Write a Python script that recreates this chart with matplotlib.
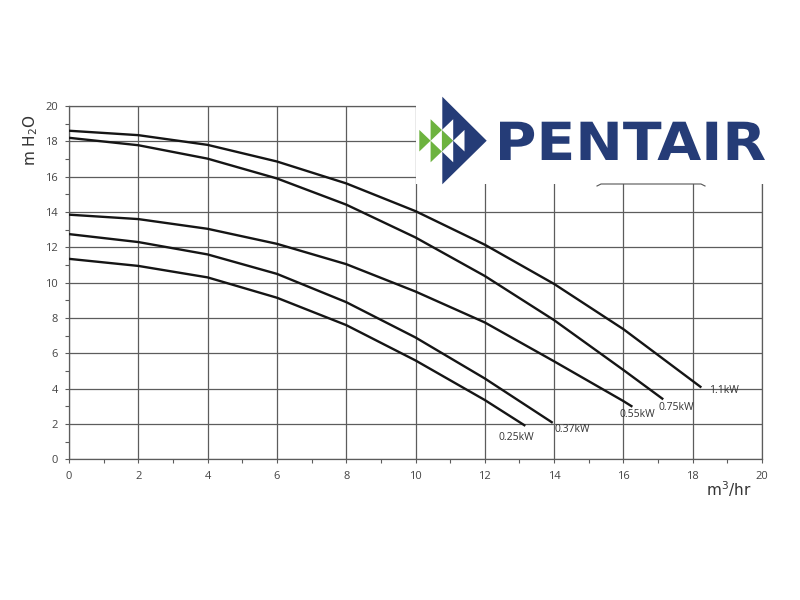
import numpy as np
import matplotlib
matplotlib.use("Agg")
import matplotlib.pyplot as plt
from matplotlib.patches import Polygon, Rectangle, PathPatch
from matplotlib.textpath import TextPath
from matplotlib.font_manager import FontProperties
from matplotlib.transforms import Affine2D

# pump curves (flow m3/hr, head m H2O)
flow_110 = [0, 2, 4, 6, 8, 10, 12, 14, 16, 18.25]
head_110 = [18.6, 18.35, 17.8, 16.86, 15.62, 14.05, 12.15, 9.93, 7.37, 4.07]
flow_075 = [0, 2, 4, 6, 8, 10, 12, 14, 16, 17.15]
head_075 = [18.2, 17.78, 17.02, 15.9, 14.42, 12.56, 10.38, 7.88, 5.06, 3.4]
flow_055 = [0, 2, 4, 6, 8, 10, 12, 14, 16, 16.26]
head_055 = [13.85, 13.6, 13.05, 12.2, 11.05, 9.5, 7.75, 5.55, 3.3, 2.98]
flow_037 = [0, 2, 4, 6, 8, 10, 12, 13.96]
head_037 = [12.75, 12.3, 11.6, 10.5, 8.9, 6.9, 4.58, 2.07]
flow_025 = [0, 2, 4, 6, 8, 10, 12, 13.17]
head_025 = [11.35, 10.95, 10.3, 9.15, 7.6, 5.6, 3.36, 1.9]

labels = ["1.1kW", "0.75kW", "0.55kW", "0.37kW", "0.25kW"]
label_x = [18.46, 17.0, 15.88, 14.0, 12.4]
label_y = [3.92, 2.95, 2.56, 1.67, 1.22]

x_ticks = list(range(0, 21, 2))
y_ticks = list(range(0, 21, 2))

grid_col = "#5c5c5c"
text_col = "#444444"

fig = plt.figure(figsize=(8, 6), dpi=100)
ax = fig.add_axes([69 / 800, 1 - 459.4 / 600, 693 / 800, 353.4 / 600])

curves = [(flow_110, head_110), (flow_075, head_075), (flow_055, head_055),
          (flow_037, head_037), (flow_025, head_025)]
for fx, hy in curves:
    ax.plot(fx, hy, color="#151515", lw=1.7, solid_capstyle="butt", zorder=3)

for lab, lx, ly in zip(labels, label_x, label_y):
    ax.text(lx, ly, lab, fontsize=7.5, color="#333333", family="Open Sans",
            ha="left", va="center", zorder=4)

ax.set_xlim(0, 20)
ax.set_ylim(0, 20)
ax.set_xticks(x_ticks)
ax.set_yticks(y_ticks)
ax.set_xticks(range(1, 20, 2), minor=True)
ax.set_yticks(range(1, 20, 2), minor=True)
ax.grid(True, which="major", color=grid_col, lw=0.9)
ax.set_axisbelow(True)
for s in ax.spines.values():
    s.set_color(grid_col)
    s.set_linewidth(0.9)
ax.tick_params(which="both", direction="out", length=3, width=0.8, color=grid_col,
               labelsize=8, labelcolor=text_col, pad=5)
for t in ax.get_xticklabels() + ax.get_yticklabels():
    t.set_family("Open Sans")

ax.text(-0.056, 0.904, "m H$_2$O", transform=ax.transAxes, rotation=90,
        fontsize=11, color="#333333", ha="center", va="center")
ax.text(0.919, -0.084, "m$^3$/hr", transform=ax.transAxes, fontsize=11,
        color="#333333", ha="left", va="center")

# logo overlay in pixel space
ov = fig.add_axes([0, 0, 1, 1], zorder=10)
ov.set_xlim(0, 800)
ov.set_ylim(600, 0)
ov.axis("off")
ov.patch.set_alpha(0)

ov.add_patch(Rectangle((416, 90), 356, 94, facecolor="white", edgecolor="none"))
ov.plot([597, 601, 701, 705], [186, 184, 184, 186], color="#555555", lw=0.8)

blue = "#253c77"
green = "#6db33f"
ov.add_patch(Polygon([(442.3, 96.7), (486.7, 140.7), (442.3, 184.3)],
                     closed=True, facecolor=blue, edgecolor="none"))


def tri(x0, yc, col, right=True):
    w, h = 11.3, 10.8
    if right:
        pts = [(x0, yc - h), (x0 + w, yc), (x0, yc + h)]
    else:
        pts = [(x0 + w, yc - h), (x0, yc), (x0 + w, yc + h)]
    ov.add_patch(Polygon(pts, closed=True, facecolor=col, edgecolor="none"))


tri(419.3, 140.7, green)
tri(430.6, 130.0, green)
tri(430.6, 151.5, green)
tri(441.9, 140.7, green)
tri(441.9, 130.0, "white", right=False)
tri(441.9, 151.5, "white", right=False)
tri(453.2, 140.7, "white", right=False)

fp = FontProperties(family="DejaVu Sans", weight="bold")
tp = TextPath((0, 0), "PENTAIR", size=100, prop=fp)
ext = tp.get_extents()
sx = (765 - 500) / ext.width
sy = (160 - 121.7) / ext.height
trans = Affine2D().translate(-ext.x0, -ext.y0).scale(sx, -sy).translate(500, 160)
ov.add_patch(PathPatch(trans.transform_path(tp), facecolor=blue, edgecolor="none"))

fig.savefig("out.png", dpi=100)
